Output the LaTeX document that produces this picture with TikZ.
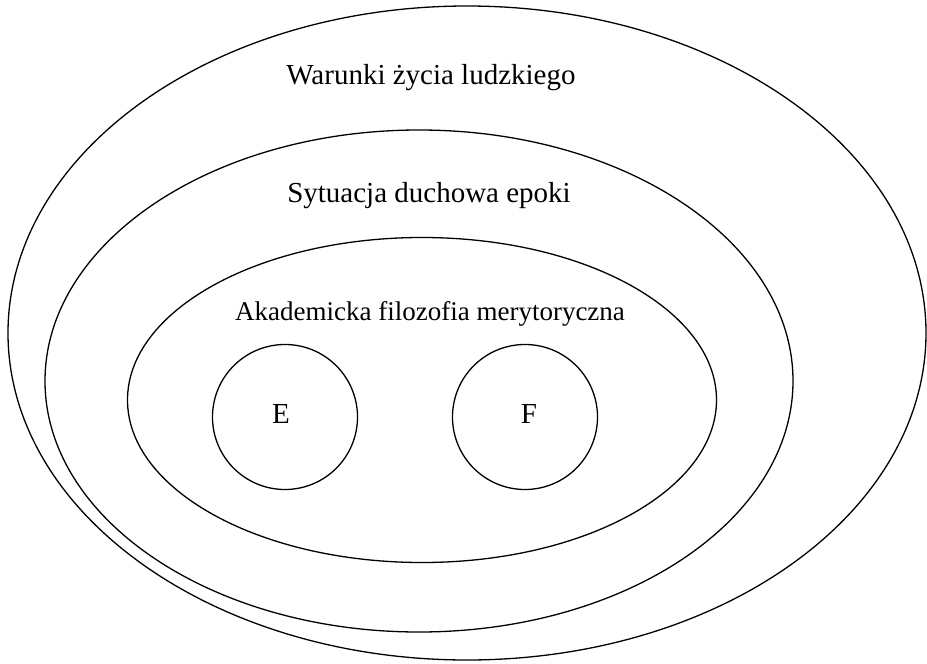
\documentclass[tikz,border=0pt]{standalone}
\usepackage{fontspec}
\setmainfont{Liberation Serif}
\usepackage{tikz}
\usetikzlibrary{shapes.geometric}
\tikzstyle{setnode}=[ellipse, draw, line width=1.3pt, inner sep=0pt]
\tikzstyle{subnode}=[circle, draw, line width=1.3pt, inner sep=0pt, minimum size=145pt]
\tikzstyle{setlabel}=[anchor=base, inner sep=0pt, font=\fontsize{29}{34}\selectfont]

\begin{document}
\begin{tikzpicture}[x=1pt, y=-1pt]
        \useasboundingbox (0,0) rectangle (927,664);
        % nested sets, outermost first
        \node[setnode, minimum width=918pt, minimum height=654pt] (warunki) at (467,333) {};
        \node[setnode, minimum width=748pt, minimum height=502pt] (sytuacja) at (419,381) {};
        \node[setnode, minimum width=589pt, minimum height=325pt] (akademicka) at (422,400) {};
        \node[subnode] (e) at (285,417) {};
        \node[subnode] (f) at (525,417) {};
        % labels
        \node[setlabel] (warunkilbl) at (431,84) {Warunki życia ludzkiego};
        \node[setlabel] (sytuacjalbl) at (429,202) {Sytuacja duchowa epoki};
        \node[setlabel, font=\fontsize{27}{32}\selectfont] (akademickalbl) at (430,320) {Akademicka filozofia merytoryczna};
        \node[setlabel] (elbl) at (281,423) {E};
        \node[setlabel] (flbl) at (529,423) {F};
      \end{tikzpicture}
\end{document}
